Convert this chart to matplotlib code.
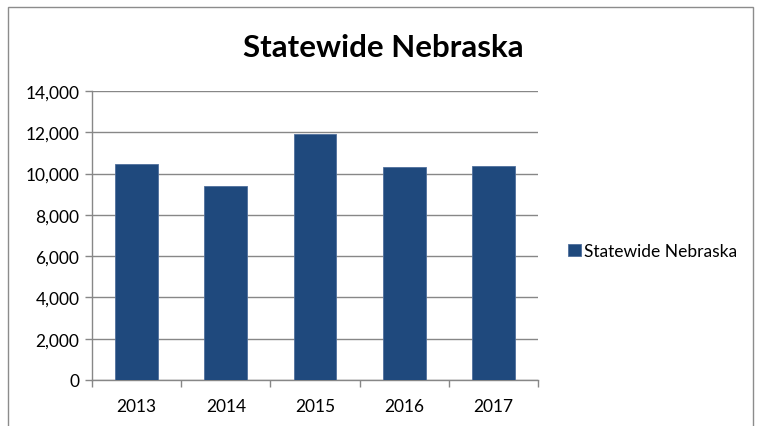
import numpy as np
import matplotlib.pyplot as plt
from matplotlib.patches import Rectangle

years = ['2013', '2014', '2015', '2016', '2017']
values = [10454, 9415, 11917, 10341, 10356]
series_name = 'Statewide Nebraska'
y_ticks = [0, 2000, 4000, 6000, 8000, 10000, 12000, 14000]

bar_color = '#1F497D'
grid_color = '#878787'

plt.rcParams['font.family'] = ['Lato', 'DejaVu Sans']

fig = plt.figure(figsize=(7.6, 4.27), dpi=100)

# outer chart frame (bottom edge is cut off in the original)
frame_top = 1 - 8 / 427
fig.patches.append(Rectangle((8 / 760, -0.05), 745 / 760, frame_top + 0.05,
                             transform=fig.transFigure, fill=False,
                             edgecolor='#8C8C8C', linewidth=1.0))

ax = fig.add_axes([92 / 760, 46 / 427, 446 / 760, 289 / 427])

x = np.arange(len(years))
ax.bar(x, values, width=0.48, color=bar_color, edgecolor='#4F6F9C',
       linewidth=0.6, label=series_name, zorder=3)

ax.set_xlim(-0.5, len(years) - 0.5)
ax.set_ylim(0, 14000)
ax.set_yticks(y_ticks)
ax.set_yticklabels([f'{v:,}' for v in y_ticks], fontsize=12.5)
ax.set_xticks(x)
ax.set_xticklabels(years, fontsize=12.5)
ax.set_xticks(np.arange(len(years) + 1) - 0.5, minor=True)

ax.tick_params(axis='x', which='major', length=0, pad=13)
ax.tick_params(axis='x', which='minor', length=5, color=grid_color, width=1)
ax.tick_params(axis='y', length=5, color=grid_color, width=1, pad=4)

ax.grid(axis='y', color=grid_color, linewidth=1, zorder=0)
for s in ['top', 'right']:
    ax.spines[s].set_visible(False)
for s in ['left', 'bottom']:
    ax.spines[s].set_color(grid_color)
    ax.spines[s].set_linewidth(1)

fig.text(383 / 760, 1 - 48 / 427, 'Statewide Nebraska', ha='center', va='center',
         fontsize=22.5, fontweight='bold')

fig.legend(loc='center left', bbox_to_anchor=(561 / 760, 1 - 252 / 427),
           frameon=False, fontsize=12.5, handlelength=0.75, handleheight=0.75,
           handletextpad=0.15, borderaxespad=0)

fig.savefig('out.png', dpi=100)
